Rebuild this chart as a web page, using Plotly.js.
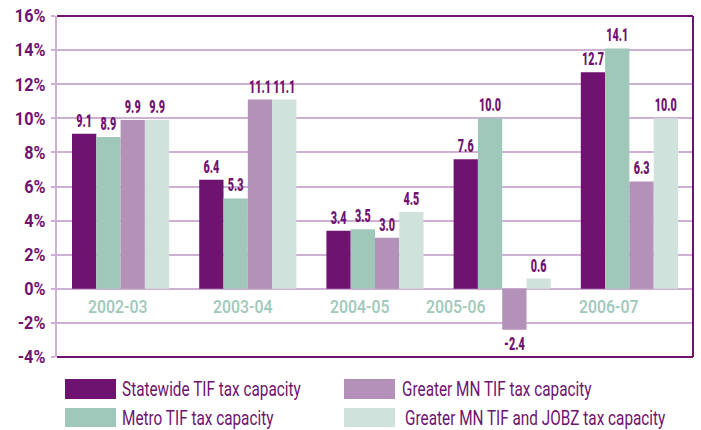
<!DOCTYPE html>
<html>
<head>
<meta charset="utf-8">
<script src="https://cdn.plot.ly/plotly-3.0.1.min.js"></script>
<style>html,body{margin:0;padding:0;background:#fff}#chart{width:701px;height:430px}</style>
</head>
<body>
<div id="chart"></div>
<script>
var categories = ["2002-03", "2003-04", "2004-05", "2005-06", "2006-07"];
var seriesNames = ["Statewide TIF tax capacity", "Metro TIF tax capacity", "Greater MN TIF tax capacity", "Greater MN TIF and JOBZ tax capacity"];
var statewide = [9.1, 6.4, 3.4, 7.6, 12.7];
var metro = [8.9, 5.3, 3.5, 10.0, 14.1];
var greaterMN = [9.9, 11.1, 3.0, -2.4, 6.3];
var greaterJobz = [9.9, 11.1, 4.5, 0.6, 10.0];
var yTickVals = [-4, -2, 0, 2, 4, 6, 8, 10, 12, 14, 16];

var colors = ["#6f1370", "#a0c8ba", "#b491b9", "#cfe3dc"];
var purple = "#6f1370";
var gridC = "#cdb0d3";
var FONT = "Roboto, 'Liberation Sans', Arial, sans-serif";
var labelShift = [-3, -5, -15, -46, -20];

var W = 701, H = 430, mL = 57, mR = 8, mT = 16, mB = 73;
var pw = W - mL - mR, ph = H - mT - mB;
function px(x) { return (x - mL) / pw; }
function py(y) { return (H - mB - y) / ph; }

var seriesData = [statewide, metro, greaterMN, greaterJobz];
var traces = seriesData.map(function (vals, i) {
  return {
    type: "bar", x: categories, y: vals, name: seriesNames[i],
    marker: { color: colors[i], line: { width: 0 } },
    texttemplate: "%{y:.1f}", textposition: "outside", constraintext: "none",
    textfont: { family: FONT, size: 18, color: purple, weight: 900 },
    cliponaxis: false, showlegend: false, hoverinfo: "skip"
  };
});

var annotations = categories.map(function (c, i) {
  return { x: c, y: -1, xref: "x", yref: "y", text: c, showarrow: false, xshift: labelShift[i], yshift: -1,
    font: { family: FONT, size: 18, color: "#a0c8ba", weight: 500 } };
});
var nCat = annotations.length;

var shapes = [
  { type: "line", xref: "paper", yref: "paper", x0: 0, x1: 1, y0: 1, y1: 1, line: { color: purple, width: 2 } },
  { type: "line", xref: "paper", yref: "paper", x0: 1, x1: 1, y0: 0, y1: 1, line: { color: purple, width: 2 } },
  { type: "line", xref: "paper", yref: "paper", x0: 0, x1: 1, y0: 0, y1: 0, line: { color: purple, width: 2 } }
];

// custom legend (large swatches), rows: [Statewide, Greater MN], [Metro, JOBZ]
var legendOrder = [[0, 2], [1, 3]];
var rowY = [[379, 399], [408, 427]];
var textY = [389, 418];
var colX = [[65, 116], [344, 395]];
var textX = [[121, 401], [121, 404]];
legendOrder.forEach(function (row, r) {
  row.forEach(function (si, c) {
    shapes.push({ type: "rect", xref: "paper", yref: "paper",
      x0: px(colX[c][0]), x1: px(colX[c][1]), y0: py(rowY[r][1]), y1: py(rowY[r][0]),
      fillcolor: colors[si], line: { width: 0 } });
    annotations.push({ xref: "paper", yref: "paper", x: px(textX[r][c]), y: py(textY[r]),
      xanchor: "left", yanchor: "middle", showarrow: false, text: seriesNames[si], borderpad: 0,
      font: { family: FONT, size: 21, color: purple } });
  });
});

var layout = {
  width: W, height: H,
  margin: { l: mL, r: mR, t: mT, b: mB, pad: 0 },
  paper_bgcolor: "#fff", plot_bgcolor: "#fff",
  barmode: "group", bargap: 0.236, bargroupgap: 0,
  showlegend: false,
  xaxis: { type: "category", showticklabels: false, ticks: "", showgrid: false, showline: false, zeroline: false, fixedrange: true },
  yaxis: {
    range: [-4, 16], tickvals: yTickVals, ticktext: yTickVals.map(function (v) { return v + "%"; }),
    showgrid: true, gridcolor: gridC, gridwidth: 2,
    zeroline: true, zerolinecolor: gridC, zerolinewidth: 2,
    showline: true, linecolor: gridC, linewidth: 2,
    ticks: "outside", ticklen: 4, tickcolor: gridC, tickwidth: 2, ticklabelstandoff: 2,
    tickfont: { family: FONT, size: 18, color: purple, weight: "bold" }, fixedrange: true
  },
  shapes: shapes,
  annotations: annotations
};

function squeeze(nodes, s, anchor) {
  Array.prototype.forEach.call(nodes, function (t) {
    var bb = t.getBBox();
    var cx = anchor === "left" ? bb.x : anchor === "right" ? bb.x + bb.width : bb.x + bb.width / 2;
    var old = t.getAttribute("transform") || "";
    t.setAttribute("transform", old + " translate(" + cx + ",0) scale(" + s + ",1) translate(" + (-cx) + ",0)");
  });
}

Plotly.newPlot("chart", traces, layout, { displayModeBar: false, staticPlot: true }).then(function (gd) {
  squeeze(gd.querySelectorAll(".bartext"), 0.6, "center");
  squeeze(gd.querySelectorAll(".ytick text"), 0.9, "right");
  var ann = gd.querySelectorAll(".annotation");
  Array.prototype.forEach.call(ann, function (g) {
    var i = +g.getAttribute("data-index");
    var txt = g.querySelectorAll("text");
    if (i < nCat) squeeze(txt, 0.88, "center");
    else squeeze(txt, 0.73, "left");
  });
});
</script>
</body>
</html>
